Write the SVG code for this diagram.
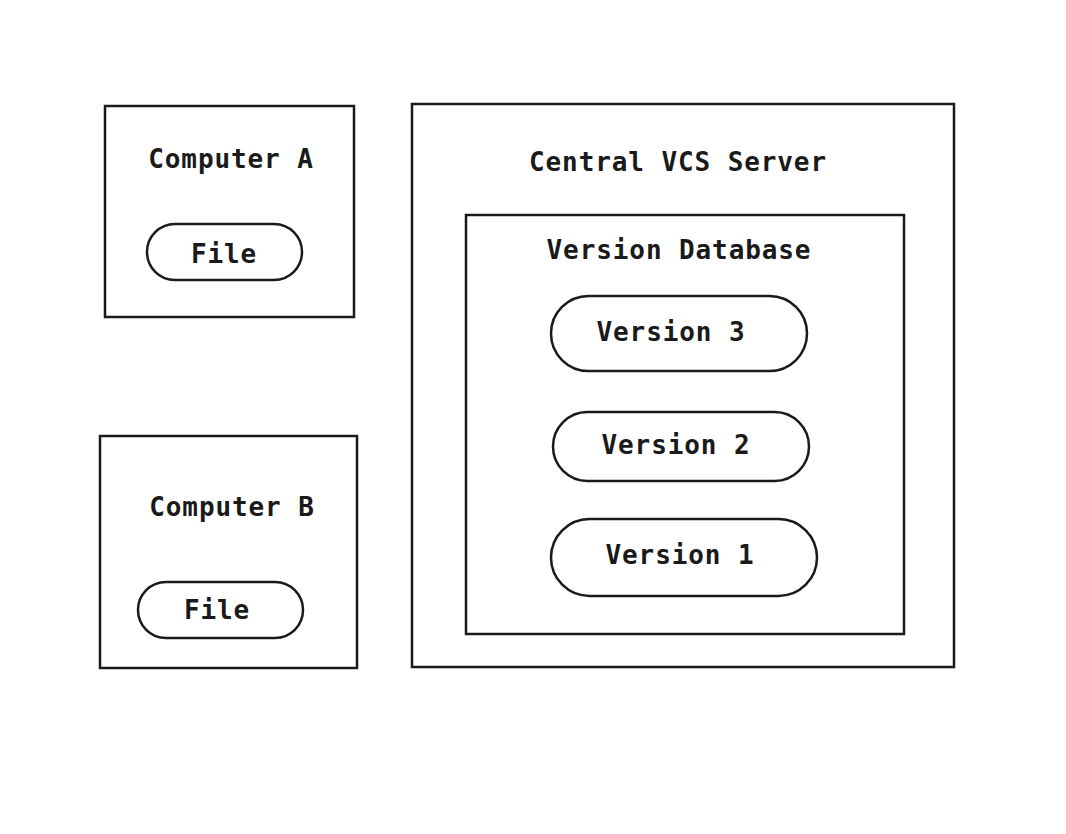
<svg xmlns="http://www.w3.org/2000/svg" width="1066" height="834" viewBox="0 0 1066 834">
<style>
.box{fill:#fff;stroke:#1a1a1a;stroke-width:2.5}
.t{font-family:"DejaVu Sans Mono","Liberation Mono",monospace;font-weight:bold;font-size:26px;letter-spacing:0.9px;fill:#1a1a1a;text-anchor:middle}
</style>
<rect width="1066" height="834" fill="#fff"/>
<g id="computer-a">
<rect class="box" x="105" y="106" width="249" height="211"/>
<text class="t" x="231" y="168">Computer A</text>
</g>
<g id="file-a">
<rect class="box" x="147" y="224" width="155" height="56" rx="28"/>
<text class="t" x="224" y="263">File</text>
</g>
<g id="computer-b">
<rect class="box" x="100" y="436" width="257" height="232"/>
<text class="t" x="232" y="516">Computer B</text>
</g>
<g id="file-b">
<rect class="box" x="138" y="582" width="165" height="56" rx="28"/>
<text class="t" x="217" y="619">File</text>
</g>
<g id="central-server">
<rect class="box" x="412" y="104" width="542" height="563"/>
<text class="t" x="678" y="171">Central VCS Server</text>
</g>
<g id="version-db">
<rect class="box" x="466" y="215" width="438" height="419"/>
<text class="t" x="679" y="259">Version Database</text>
</g>
<g id="version-3">
<rect class="box" x="551" y="296" width="256" height="75" rx="37.5"/>
<text class="t" x="671" y="341">Version 3</text>
</g>
<g id="version-2">
<rect class="box" x="553" y="412" width="256" height="69" rx="34.5"/>
<text class="t" x="676" y="454">Version 2</text>
</g>
<g id="version-1">
<rect class="box" x="551" y="519" width="266" height="77" rx="38.5"/>
<text class="t" x="680" y="564">Version 1</text>
</g>
<g id="connectors"></g>
</svg>
